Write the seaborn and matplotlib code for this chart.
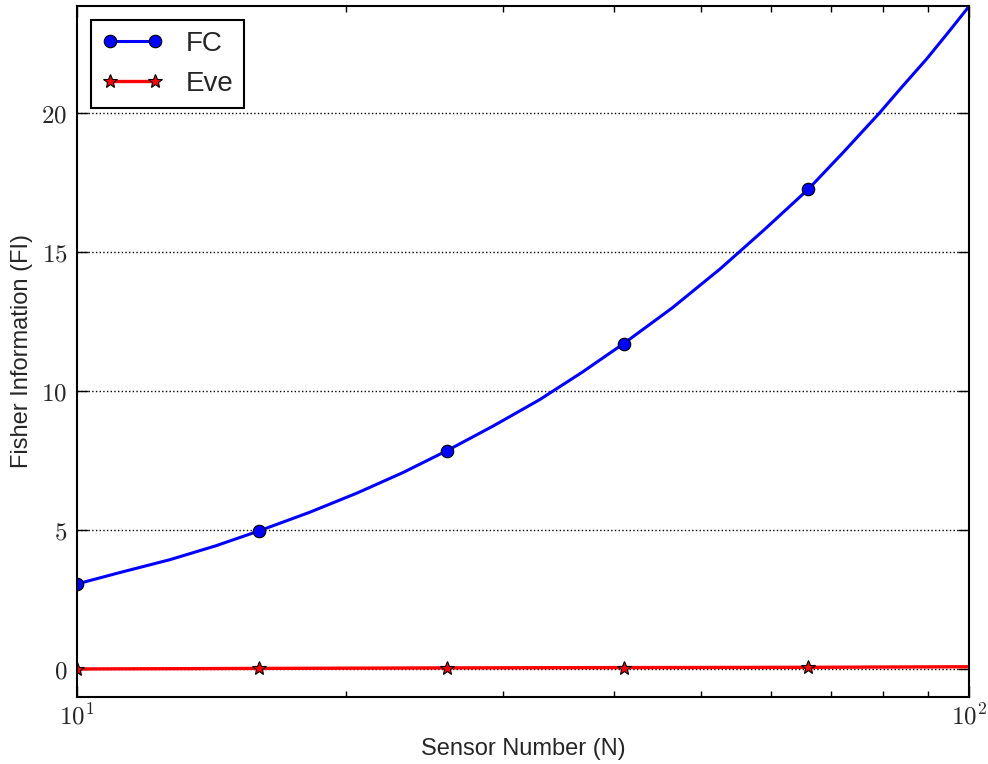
import math
import matplotlib
matplotlib.use("Agg")
import matplotlib.pyplot as plt
from matplotlib.ticker import FixedLocator, FuncFormatter, LogLocator, NullFormatter
import seaborn as sns
import pandas as pd

# Sensor counts and Fisher information
sensor_n = [10, 11.2, 12.7, 14.3, 16, 18.2, 20.6, 23.2, 26, 29.3, 33, 36.8,
            41, 46.5, 52.6, 58.9, 66, 72.4, 79.3, 84.1, 89.6, 94.6, 100]
fi_fc = [3.06, 3.48, 3.93, 4.43, 4.97, 5.63, 6.33, 7.07, 7.86, 8.75, 9.69, 10.67,
         11.71, 13.0, 14.40, 15.8, 17.26, 18.62, 20.0, 20.95, 21.95, 22.88, 23.85]
fi_eve = [0.00, 0.005, 0.01, 0.015, 0.02, 0.025, 0.03, 0.035, 0.04, 0.042, 0.045, 0.048,
          0.05, 0.052, 0.055, 0.058, 0.06, 0.065, 0.07, 0.072, 0.075, 0.078, 0.08]
marker_idx = [0, 4, 8, 12, 16]
y_ticks = [0, 5, 10, 15, 20]

sns.set_style("ticks", {
    "xtick.direction": "in", "ytick.direction": "in",
    "axes.edgecolor": "black",
})
plt.rcParams["font.family"] = ["Liberation Sans", "DejaVu Sans"]
plt.rcParams["mathtext.fontset"] = "cm"

df = pd.DataFrame({"N": sensor_n, "FC": fi_fc, "Eve": fi_eve})

fig, ax = plt.subplots(figsize=(9.88, 7.64), dpi=100)
fig.subplots_adjust(left=0.078, right=0.981, top=0.992, bottom=0.088)

sns.lineplot(data=df, x="N", y="FC", ax=ax, color="blue", lw=2.2, sort=False,
             marker="o", markersize=9, markerfacecolor="blue",
             markeredgecolor="black", markeredgewidth=0.8,
             markevery=marker_idx, label="FC")
sns.lineplot(data=df, x="N", y="Eve", ax=ax, color="red", lw=2.4, sort=False,
             marker="*", markersize=10, markerfacecolor="red",
             markeredgecolor="black", markeredgewidth=0.8,
             markevery=marker_idx, label="Eve")

ax.set_xscale("log")
ax.set_xlim(10, 100)
ax.set_ylim(-1, max(fi_fc))

ax.xaxis.set_major_locator(FixedLocator([10, 100]))
ax.xaxis.set_major_formatter(FuncFormatter(lambda v, p: r"$10^{%d}$" % round(math.log10(v))))
ax.xaxis.set_minor_locator(LogLocator(base=10, subs=range(2, 10)))
ax.xaxis.set_minor_formatter(NullFormatter())
ax.yaxis.set_major_locator(FixedLocator(y_ticks))
ax.yaxis.set_major_formatter(FuncFormatter(lambda v, p: r"$%d$" % v))

ax.tick_params(which="both", direction="in", top=True, right=True, color="black")
ax.tick_params(which="major", length=8, width=1, labelsize=18)
ax.tick_params(axis="x", which="major", pad=5)
ax.tick_params(axis="y", which="major", pad=7)
ax.tick_params(which="minor", length=4, width=1)
for s in ax.spines.values():
    s.set_linewidth(1.5)
    s.set_color("black")

ax.yaxis.grid(True, linestyle=":", color="black", lw=1)
ax.set_axisbelow(True)

ax.set_xlabel("Sensor Number (N)", fontsize=17, labelpad=6)
ax.set_ylabel("Fisher Information (FI)", fontsize=17, labelpad=6)

leg = ax.legend(loc="upper left", fontsize=20, numpoints=2, fancybox=False,
                framealpha=1, edgecolor="black", handlelength=2.2,
                handletextpad=0.8, borderaxespad=0.5, borderpad=0.4)
leg.get_frame().set_linewidth(1.5)

fig.savefig("out.png", dpi=100)
